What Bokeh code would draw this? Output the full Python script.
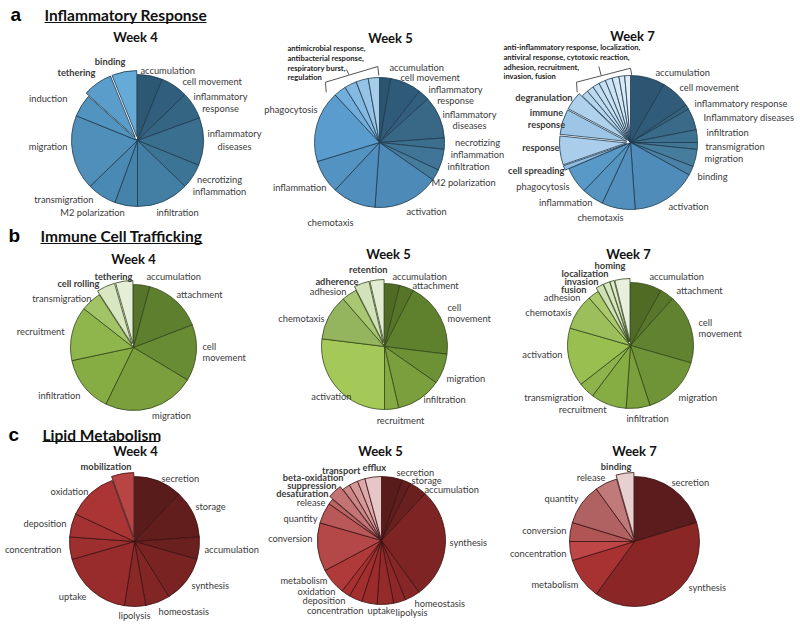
import math
from bokeh.plotting import figure
from bokeh.models import ColumnDataSource, Range1d
from bokeh.core.properties import value
from bokeh.embed import file_html
from bokeh.resources import INLINE

# ---------------- data (share of each category) ----------------
a4_cats = ["accumulation", "cell movement", "inflammatory response", "inflammatory diseases",
           "necrotizing inflammation", "infiltration", "M2 polarization", "transmigration",
           "migration", "induction", "tethering", "binding"]
a4_vals = [22, 24, 24, 42, 22, 46, 20, 26, 66, 20, 26, 22]

a5_cats = ["accumulation", "cell movement", "inflammatory response", "inflammatory diseases",
           "necrotizing inflammation", "infiltration", "M2 polarization", "activation",
           "chemotaxis", "inflammation", "phagocytosis", "antimicrobial response",
           "antibacterial response", "respiratory burst", "regulation"]
a5_vals = [10, 28, 10, 38, 10, 19, 10, 59, 39, 30, 64, 11, 11, 11, 10]

a7_cats = ["accumulation", "cell movement", "inflammatory response", "Inflammatory diseases",
           "infiltration", "transmigration", "migration", "binding", "activation", "chemotaxis",
           "inflammation", "phagocytosis", "cell spreading", "response", "immune response",
           "degranulation", "anti-inflammatory response", "localization", "antiviral response",
           "cytotoxic reaction", "adhesion", "recruitment", "invasion", "fusion"]
a7_vals = [30, 26, 4, 19, 11, 6, 15, 8, 57, 29, 19, 23, 4, 25, 22, 16, 6, 6, 6, 6, 6, 6, 5, 5]

b4_cats = ["accumulation", "attachment", "cell movement", "migration", "infiltration",
           "recruitment", "transmigration", "cell rolling", "tethering"]
b4_vals = [15, 54, 52, 85, 52, 50, 19, 17, 16]

b5_cats = ["accumulation", "attachment", "cell movement", "migration", "infiltration",
           "recruitment", "activation", "chemotaxis", "adhesion", "adherence", "retention"]
b5_vals = [14, 13, 70, 28, 42, 13, 97, 42, 14, 14, 13]

b7_cats = ["accumulation", "attachment", "cell movement", "migration", "infiltration",
           "recruitment", "transmigration", "activation", "chemotaxis", "adhesion", "fusion",
           "invasion", "localization", "homing"]
b7_vals = [29, 13, 64, 56, 22, 33, 15, 54, 33, 10, 7, 6, 4, 14]

c4_cats = ["secretion", "storage", "accumulation", "synthesis", "homeostasis", "lipolysis",
           "uptake", "concentration", "deposition", "oxidation", "mobilization"]
c4_vals = [43, 43, 20, 42, 22, 19, 65, 20, 21, 45, 20]

c5_cats = ["secretion", "storage", "accumulation", "synthesis", "homeostasis", "lipolysis",
           "uptake", "concentration", "deposition", "oxidation", "metabolism", "conversion",
           "quantity", "release", "desaturation", "suppression", "beta-oxidation", "transport",
           "efflux"]
c5_vals = [19, 8, 16, 101, 14, 11, 15, 14, 12, 8, 24, 44, 19, 5, 13, 7, 8, 7, 15]

c7_cats = ["secretion", "synthesis", "metabolism", "concentration", "conversion", "quantity",
           "release", "binding"]
c7_vals = [73, 143, 37, 17, 17, 37, 20, 16]

section_titles = ["Inflammatory Response", "Immune Cell Trafficking", "Lipid Metabolism"]
section_letters = ["a", "b", "c"]
week_titles = ["Week 4", "Week 5", "Week 7"]

# ---------------- styles ----------------
a4_cols = ["#2d5874", "#305e7c", "#346684", "#3a6f90", "#3c7496", "#437fa5", "#4683ab",
           "#4a89b3", "#4f8fba", "#5294c0", "#5a9dcb", "#66aad8"]
a5_cols = ["#2b5470", "#2f5a78", "#335f7f", "#386886", "#3c6e8e", "#417597", "#457b9d",
           "#4d8ab8", "#4f8ebd", "#5393c2", "#5a9cce", "#72aedb", "#84b9e1", "#95c3e6", "#a6ceea"]
a7_cols = ["#2c5672", "#305c79", "#35637f", "#3a6a87", "#3e708f", "#427695", "#467c9c",
           "#4a82a5", "#4f8cba", "#528fbc", "#5593c1", "#5999c7", "#8dbde2", "#a9cdea",
           "#9dc6e6", "#b0d1ec", "#b6d5ed", "#bcd9ef", "#c2dcf0", "#c8e0f2", "#cee3f3",
           "#d4e7f5", "#dae9f6", "#e0edf8"]
b4_cols = ["#56742a", "#5e7f2e", "#678c34", "#7a9f3c", "#86ac44", "#8fb64c", "#a3c466",
           "#d8e6c2", "#e6eed8"]
b5_cols = ["#4f6b24", "#567528", "#5f812e", "#6d9236", "#7a9f3c", "#85aa43", "#a4c958",
           "#94b45e", "#a9c772", "#d2e2ba", "#e2ecd2"]
b7_cols = ["#4f6b24", "#58772a", "#618230", "#6f9437", "#7a9f3c", "#86ac44", "#8db34a",
           "#98bf50", "#9cbf5c", "#a9c96a", "#cfe0b4", "#d8e6c2", "#dfeacd", "#e8efdc"]
c4_cols = ["#5a1b1b", "#621d1d", "#6b2020", "#7a2323", "#822525", "#8a2828", "#982c2c",
           "#9e2f2f", "#a43232", "#ab3535", "#b84444"]
c5_cols = ["#5a1b1b", "#621d1d", "#6b2020", "#7e2424", "#862626", "#8e2828", "#952a2a",
           "#9c2c2c", "#a22e2e", "#a83030", "#b03a3a", "#b44848", "#b85858", "#bc6464",
           "#c47474", "#cc8686", "#d49898", "#dcaaaa", "#e6c6c6"]
c7_cols = ["#5a1c1c", "#8b2626", "#a83232", "#bf4646", "#b05454", "#b06262", "#c07a7a", "#e8d0d0"]


def flags(n, idx):
    return [i in idx for i in range(n)]


pies = [
    # cx, cy (page px), radius, values, colours, exploded, edge colour
    (137, 140, 66, a4_vals, a4_cols, flags(12, [10, 11]), "#1e3a4e"),
    (379, 142, 65, a5_vals, a5_cols, flags(15, []), "#1e3a4e"),
    (630, 142, 67, a7_vals, a7_cols, flags(24, [12, 13, 14, 15]), "#1e3a4e"),
    (133, 347, 63, b4_vals, b4_cols, flags(9, [7, 8]), "#34461a"),
    (384, 346, 63, b5_vals, b5_cols, flags(11, [9, 10]), "#34461a"),
    (630, 345, 63, b7_vals, b7_cols, flags(14, [10, 11, 12, 13]), "#34461a"),
    (134, 541, 65, c4_vals, c4_cols, flags(11, [10]), "#3a1010"),
    (381, 540, 64, c5_vals, c5_cols, flags(19, [14]), "#3a1010"),
    (634, 541, 65, c7_vals, c7_cols, flags(8, [7]), "#3a1010"),
]

W, H = 800, 626


def fy(yy):
    return H - yy


p = figure(width=W, height=H, output_backend="svg", toolbar_location=None,
           x_range=Range1d(0, W), y_range=Range1d(0, H),
           x_axis_location=None, y_axis_location=None, min_border=0)
p.grid.visible = False
p.outline_line_color = None
p.background_fill_color = "white"
p.border_fill_color = "white"

for cx, cy, r, vals, cols, expl, edge in pies:
    total = float(sum(vals))
    cum = 0.0
    xs, ys, sa, ea = [], [], [], []
    for v, e in zip(vals, expl):
        c0 = cum / total
        c1 = (cum + v) / total
        cum += v
        mid = math.pi / 2 - math.pi * (c0 + c1)
        off = 4 if e else 0
        xs.append(cx + off * math.cos(mid))
        ys.append(fy(cy) + off * math.sin(mid))
        sa.append(math.pi / 2 - 2 * math.pi * c1)
        ea.append(math.pi / 2 - 2 * math.pi * c0)
    src = ColumnDataSource(dict(x=xs, y=ys, s=sa, e=ea, c=cols))
    p.wedge(x="x", y="y", radius=r, start_angle="s", end_angle="e", fill_color="c",
            line_color=edge, line_width=0.8, source=src)

# ---------------- labels ----------------
N, B = "normal", "bold"
labels = [
    # row a, week 4
    ("binding", 125, 61, "right", B), ("tethering", 95, 72, "right", B),
    ("accumulation", 140, 70, "left", N), ("cell movement", 182, 81, "left", N),
    ("inflammatory", 220, 96, "center", N), ("response", 220, 108, "center", N),
    ("inflammatory", 234, 133, "center", N), ("diseases", 234, 146, "center", N),
    ("necrotizing", 219, 179, "center", N), ("inflammation", 219, 191, "center", N),
    ("infiltration", 177, 212, "center", N), ("M2 polarization", 92, 212, "center", N),
    ("transmigration", 93, 199, "right", N), ("migration", 67, 146, "right", N),
    ("induction", 67, 98, "right", N),
    # row a, week 5
    ("accumulation", 389, 67, "left", N), ("cell movement", 400, 77, "left", N),
    ("inflammatory", 455, 89, "center", N), ("response", 455, 100, "center", N),
    ("inflammatory", 469, 114, "center", N), ("diseases", 469, 125, "center", N),
    ("necrotizing", 477, 142, "center", N), ("inflammation", 477, 154, "center", N),
    ("infiltration", 447, 166, "left", N), ("M2 polarization", 431, 182, "left", N),
    ("activation", 406, 211, "left", N), ("chemotaxis", 330, 222, "center", N),
    ("inflammation", 326, 187, "right", N), ("phagocytosis", 317, 109, "right", N),
    # row a, week 7
    ("degranulation", 572, 97, "right", B), ("immune", 546, 112, "center", B),
    ("response", 546, 124, "center", B), ("response", 559, 147, "right", B),
    ("cell spreading", 564, 170, "right", B), ("phagocytosis", 569, 186, "right", N),
    ("inflammation", 592, 202, "right", N), ("chemotaxis", 600, 217, "center", N),
    ("activation", 668, 206, "left", N), ("binding", 697, 176, "left", N),
    ("migration", 704, 158, "left", N), ("transmigration", 705, 146, "left", N),
    ("infiltration", 706, 132, "left", N), ("Inflammatory diseases", 703, 117, "left", N),
    ("inflammatory response", 694, 103, "left", N), ("cell movement", 679, 87, "left", N),
    ("accumulation", 655, 72, "left", N),
    # row b, week 4
    ("tethering", 132, 276, "right", B), ("cell rolling", 99, 283, "right", B),
    ("transmigration", 91, 298, "right", N), ("recruitment", 64, 331, "right", N),
    ("accumulation", 146, 276, "left", N), ("attachment", 176, 294, "left", N),
    ("cell", 202, 346, "left", N), ("movement", 202, 357, "left", N),
    ("infiltration", 80, 395, "right", N), ("migration", 171, 415, "center", N),
    # row b, week 5
    ("retention", 387, 269, "right", B), ("adherence", 358, 281, "right", B),
    ("adhesion", 346, 291, "right", N), ("chemotaxis", 324, 318, "right", N),
    ("accumulation", 392, 276, "left", N), ("attachment", 412, 285, "left", N),
    ("cell", 447, 307, "left", N), ("movement", 447, 318, "left", N),
    ("migration", 446, 378, "left", N), ("infiltration", 423, 399, "left", N),
    ("recruitment", 400, 420, "center", N), ("activation", 351, 396, "right", N),
    # row b, week 7
    ("homing", 625, 265, "right", B), ("localization", 608, 273, "right", B),
    ("invasion", 598, 281, "right", B), ("fusion", 586, 289, "right", B),
    ("adhesion", 580, 297, "right", N), ("chemotaxis", 571, 312, "right", N),
    ("activation", 562, 354, "right", N), ("transmigration", 583, 397, "right", N),
    ("recruitment", 606, 409, "right", N), ("infiltration", 647, 418, "center", N),
    ("migration", 678, 397, "left", N), ("cell", 698, 322, "left", N),
    ("movement", 698, 333, "left", N), ("attachment", 676, 290, "left", N),
    ("accumulation", 649, 276, "left", N),
    # row c, week 4
    ("mobilization", 131, 466, "right", B), ("secretion", 161, 478, "left", N),
    ("storage", 195, 506, "left", N), ("accumulation", 204, 549, "left", N),
    ("synthesis", 191, 585, "left", N), ("homeostasis", 158, 611, "left", N),
    ("lipolysis", 134, 615, "center", N), ("uptake", 86, 596, "right", N),
    ("concentration", 61, 549, "right", N), ("deposition", 66, 523, "right", N),
    ("oxidation", 88, 491, "right", N),
    # row c, week 5
    ("transport", 360, 470, "right", B), ("efflux", 362, 467, "left", B),
    ("beta-oxidation", 343, 477, "right", B), ("suppression", 336, 485, "right", B),
    ("desaturation", 328, 493, "right", B), ("release", 325, 502, "right", N),
    ("quantity", 317, 518, "right", N), ("conversion", 312, 538, "right", N),
    ("metabolism", 327, 580, "right", N), ("oxidation", 335, 591, "right", N),
    ("deposition", 345, 600, "right", N), ("concentration", 363, 610, "right", N),
    ("uptake", 367, 610, "left", N), ("lipolysis", 395, 612, "left", N),
    ("homeostasis", 414, 603, "left", N), ("synthesis", 449, 542, "left", N),
    ("accumulation", 424, 489, "left", N), ("storage", 411, 480, "left", N),
    ("secretion", 396, 472, "left", N),
    # row c, week 7
    ("binding", 631, 466, "right", B), ("release", 605, 477, "right", N),
    ("quantity", 578, 498, "right", N), ("conversion", 566, 530, "right", N),
    ("concentration", 566, 553, "right", N), ("metabolism", 578, 584, "right", N),
    ("synthesis", 688, 587, "left", N), ("secretion", 671, 482, "left", N),
]
lsrc = ColumnDataSource(dict(
    x=[l[1] for l in labels], y=[fy(l[2]) for l in labels], text=[l[0] for l in labels],
    align=[l[3] for l in labels], style=[l[4] for l in labels]))
p.text(x="x", y="y", text="text", text_align="align", text_font_style="style",
       text_baseline="middle", text_font=value("Lato"), text_font_size="9.3px",
       text_color="#3a3a3a", source=lsrc)

# bracket notes (small bold text)
notes = [
    ("antimicrobial response,", 287, 47), ("antibacterial response,", 287, 57),
    ("respiratory burst,", 287, 67), ("regulation", 287, 76),
    ("anti-inflammatory response, localization,", 503, 46),
    ("antiviral response, cytotoxic reaction,", 503, 56),
    ("adhesion, recruitment,", 503, 66), ("invasion, fusion", 503, 75),
]
nsrc = ColumnDataSource(dict(x=[n[1] for n in notes], y=[fy(n[2]) for n in notes],
                             text=[n[0] for n in notes]))
p.text(x="x", y="y", text="text", text_align="left", text_baseline="middle",
       text_font=value("Lato"), text_font_size="7.6px", text_font_style="bold",
       text_color="#222222", source=nsrc)

brackets_x = [[325.7, 325, 377.3, 378.3], [348.3, 346], [576.7, 576, 630, 631.7], [600.7, 598.3]]
brackets_y = [[91.7, 81.7, 66, 75], [74, 69], [91.7, 81.7, 67.7, 77.3], [75, 66]]
p.multi_line(xs=brackets_x, ys=[[fy(v) for v in ys] for ys in brackets_y],
             line_color="#555555", line_width=1)

# section headers
sec_y = [14, 235, 434]
sec_ul = [(44, 206, 22), (40, 202, 243), (42, 159, 441)]
p.text(x=[10, 8, 8], y=[fy(v) for v in sec_y], text=section_letters, text_baseline="middle",
       text_font=value("Liberation Sans"), text_font_size="19px", text_font_style="bold",
       text_color="black")
p.text(x=[44, 40, 42], y=[fy(v) for v in sec_y], text=section_titles, text_baseline="middle",
       text_font=value("Lato"), text_font_size="15.5px", text_font_style="bold",
       text_color="#111111")
p.segment(x0=[u[0] for u in sec_ul], x1=[u[1] for u in sec_ul],
          y0=[fy(u[2]) for u in sec_ul], y1=[fy(u[2]) for u in sec_ul],
          line_color="#111111", line_width=1.2)

# week titles
wk_x = [135, 390, 632, 133, 388, 628, 135, 380, 634]
wk_y = [36, 37, 35, 258, 253, 253, 450, 450, 450]
p.text(x=wk_x, y=[fy(v) for v in wk_y], text=week_titles * 3, text_align="center",
       text_baseline="middle", text_font=value("Lato"), text_font_size="13px",
       text_font_style="bold", text_color="#111111")

open("out.html", "w").write(file_html(p, INLINE))
